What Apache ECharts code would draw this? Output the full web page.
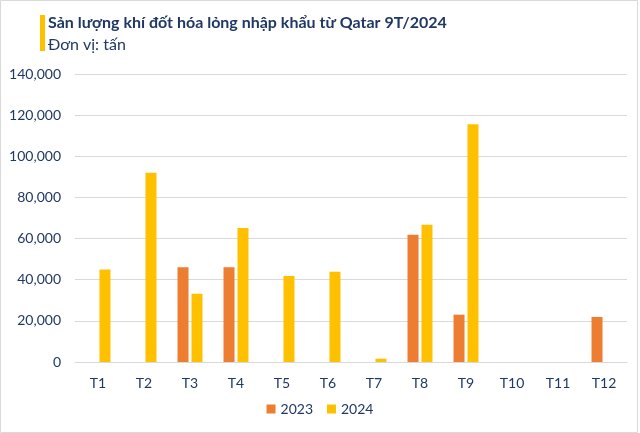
<!DOCTYPE html>
<html><head><meta charset="utf-8">
<script src="https://cdn.jsdelivr.net/npm/echarts@6/dist/echarts.min.js"></script>
<style>html,body{margin:0;padding:0;background:#fff}#c{width:640px;height:433px}</style>
</head><body><div id="c"></div>
<script>
const categories = ['T1','T2','T3','T4','T5','T6','T7','T8','T9','T10','T11','T12'];
const values2023 = [null,null,46000,46000,null,null,null,61800,23000,null,null,21900];
const values2024 = [45000,92000,33200,65100,41800,43900,1600,66700,115600,null,null,null];
const yTicks = [0,20000,40000,60000,80000,100000,120000,140000];
const titleText = 'Sản lượng khí đốt hóa lỏng nhập khẩu từ Qatar 9T/2024';
const subtitleText = 'Đơn vị: tấn';

const navy = '#1F3864';
const chart = echarts.init(document.getElementById('c'));
chart.setOption({
  animation:false,
  textStyle:{fontFamily:'Lato'},
  graphic:[
    {type:'rect', shape:{x:40,y:15,width:5,height:36}, style:{fill:'#FFC000'}},
    {type:'rect', shape:{x:0.5,y:0.5,width:637,height:432}, style:{fill:null, stroke:'#D9D9D9', lineWidth:1}}
  ],
  title:{
    text:titleText, subtext:subtitleText, left:48, top:15, itemGap:6, padding:0,
    textStyle:{fontSize:16, fontWeight:'bold', color:navy, fontFamily:'Lato'},
    subtextStyle:{fontSize:16, color:navy, fontFamily:'Lato'}
  },
  legend:{
    bottom:12, left:'center', itemWidth:9, itemHeight:9, itemGap:14, icon:'rect',
    textStyle:{fontSize:14, color:navy}
  },
  grid:{left:75, right:13, top:74, bottom:71, containLabel:false},
  xAxis:{
    type:'category', data:categories,
    axisLine:{lineStyle:{color:'#D9D9D9', width:1}},
    axisTick:{show:false},
    axisLabel:{fontSize:14, color:navy, margin:14}
  },
  yAxis:{
    type:'value', min:0, max:140000, interval:20000,
    axisLine:{show:false}, axisTick:{show:false},
    splitLine:{lineStyle:{color:'#D9D9D9'}},
    axisLabel:{fontSize:14, color:navy, margin:14, formatter:v=>v.toLocaleString('en-US')}
  },
  series:[
    {name:'2023', type:'bar', data:values2023, itemStyle:{color:'#ED7D31'}, barWidth:11, barGap:'27%'},
    {name:'2024', type:'bar', data:values2024, itemStyle:{color:'#FFC000'}, barWidth:11}
  ]
});
</script></body></html>
